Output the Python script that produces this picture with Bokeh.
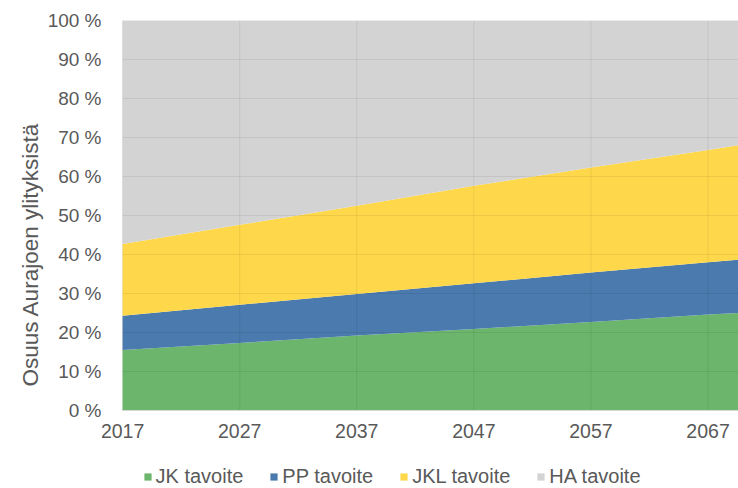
from bokeh.plotting import figure
from bokeh.models import ColumnDataSource, Legend, LegendItem, FixedTicker, Range1d
from bokeh.embed import file_html
from bokeh.resources import INLINE

# ---- data ----
years = [2017, 2027, 2037, 2047, 2057, 2067, 2070]
jk_tavoite = [15.5, 17.3, 19.2, 20.9, 22.7, 24.6, 25.1]
pp_tavoite = [8.8, 9.8, 10.7, 11.7, 12.7, 13.4, 13.7]
jkl_tavoite = [18.4, 20.5, 22.6, 25.0, 26.9, 28.8, 29.4]
ha_tavoite = [100 - (a + b + c) for a, b, c in zip(jk_tavoite, pp_tavoite, jkl_tavoite)]

series_names = ["JK tavoite", "PP tavoite", "JKL tavoite", "HA tavoite"]
series_keys = ["jk", "pp", "jkl", "ha"]
series_colors = ["#6cb56c", "#4a7aae", "#fed84a", "#d3d3d3"]

x_ticks = [2017, 2027, 2037, 2047, 2057, 2067]
y_ticks = [0, 10, 20, 30, 40, 50, 60, 70, 80, 90, 100]
y_label = "Osuus Aurajoen ylityksistä"

source = ColumnDataSource(dict(year=years, jk=jk_tavoite, pp=pp_tavoite,
                               jkl=jkl_tavoite, ha=ha_tavoite))

FONT = "Liberation Sans"
TXT = "#595959"
GRID = "black"
GRID_ALPHA = 0.07

# frame reaches the bottom so the legend (inside the frame) is not clipped;
# the value axis keeps 0..100 between y=410 and y=20; a little room on the
# left keeps the first year label unclipped
p = figure(width=738, height=488, output_backend="svg", toolbar_location=None,
           x_range=Range1d(2015.2, 2069.6), y_range=Range1d(-20, 100),
           min_border_left=101, min_border_right=0, min_border_top=20,
           min_border_bottom=0)
p.outline_line_color = None
p.background_fill_color = "white"

renderers = p.varea_stack(stackers=series_keys, x="year", source=source,
                          color=series_colors)

# grid lines only over the data band
p.segment(x0=x_ticks, x1=x_ticks, y0=[y_ticks[0]] * len(x_ticks),
          y1=[y_ticks[-1]] * len(x_ticks), line_color=GRID, line_alpha=GRID_ALPHA,
          line_width=1)
p.segment(x0=[years[0]] * len(y_ticks[1:]), x1=[years[-1]] * len(y_ticks[1:]),
          y0=y_ticks[1:], y1=y_ticks[1:], line_color=GRID, line_alpha=GRID_ALPHA,
          line_width=1)
p.xgrid.visible = False
p.ygrid.visible = False

# axes
p.xaxis.ticker = FixedTicker(ticks=x_ticks)
p.xaxis.fixed_location = 0
p.xaxis.bounds = (years[0], years[-1])
p.yaxis.ticker = FixedTicker(ticks=y_ticks)
p.yaxis.bounds = (0, 100)
p.yaxis.major_label_overrides = {v: f"{v} %" for v in y_ticks}
p.yaxis.axis_label = y_label
for ax in (p.xaxis[0], p.yaxis[0]):
    ax.major_tick_line_color = None
    ax.minor_tick_line_color = None
    ax.major_tick_out = 0
    ax.major_tick_in = 0
    ax.minor_tick_out = 0
    ax.minor_tick_in = 0
    ax.major_label_text_font = FONT
    ax.major_label_text_color = TXT
    ax.major_label_text_font_size = "19px"
    ax.axis_label_text_font = FONT
    ax.axis_label_text_color = TXT
    ax.axis_label_text_font_size = "22.5px"
    ax.axis_label_text_font_style = "normal"
p.xaxis.major_label_text_font_size = "19.5px"
p.yaxis.axis_line_color = None
p.yaxis.major_label_standoff = 0
p.yaxis.axis_label_standoff = 2
p.xaxis.axis_line_color = "#d9d9d9"
p.xaxis.major_label_standoff = 13

legend = Legend(items=[LegendItem(label=n, renderers=[r]) for n, r in zip(series_names, renderers)],
                orientation="horizontal", location=(41.5, 0),
                glyph_width=9, glyph_height=9, label_standoff=4, spacing=26,
                padding=0, margin=0, border_line_color=None,
                background_fill_alpha=0,
                label_text_font=FONT, label_text_font_size="20px",
                label_text_color=TXT)
p.add_layout(legend)

open("out.html", "w").write(file_html(p, INLINE))
